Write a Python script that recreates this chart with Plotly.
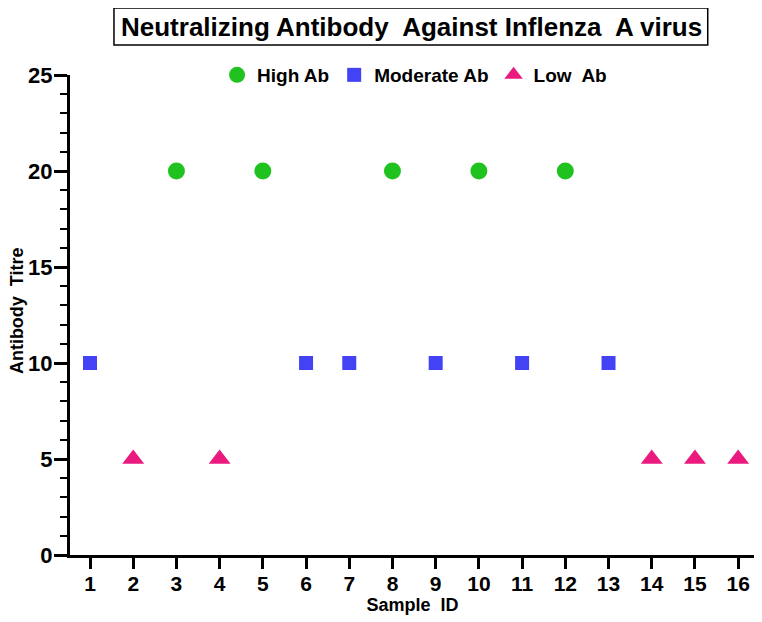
import plotly.graph_objects as go

high_x = [3, 5, 8, 10, 12]
high_y = [20, 20, 20, 20, 20]
mod_x = [1, 6, 7, 9, 11, 13]
mod_y = [10, 10, 10, 10, 10, 10]
low_x = [2, 4, 14, 15, 16]
low_y = [5, 5, 5, 5, 5]
x_ticks = list(range(1, 17))
y_ticks = [0, 5, 10, 15, 20, 25]

FONT = "Liberation Sans, Arial, sans-serif"
NARROW = "Liberation Sans Narrow, Arial Narrow, Liberation Sans, sans-serif"

fig = go.Figure()
fig.add_trace(go.Scatter(x=high_x, y=high_y, mode="markers", name="<b>High Ab</b>",
                         marker=dict(symbol="circle", size=17, color="#1fc21f")))
fig.add_trace(go.Scatter(x=mod_x, y=mod_y, mode="markers", name="<b>Moderate Ab</b>",
                         marker=dict(symbol="square", size=14, color="#4343f5")))
fig.add_trace(go.Scatter(x=low_x, y=low_y, mode="markers", name="<b>Low  Ab</b>",
                         marker=dict(symbol="triangle-up", size=19, color="#ea1a7f")))

fig.update_layout(
    width=762, height=622,
    margin=dict(l=62, r=15, t=67, b=75, autoexpand=False),
    plot_bgcolor="white", paper_bgcolor="white",
    font=dict(family=FONT, color="black"),
    legend=dict(orientation="h", x=0.503, xanchor="center", y=1.0, yanchor="middle",
                font=dict(size=19, family=FONT), bgcolor="rgba(0,0,0,0)",
                itemwidth=30, tracegroupgap=0),
    shapes=[dict(type="rect", xref="paper", yref="paper",
                 x0=0.0642, x1=0.931, y0=1.0625, y1=1.1396,
                 line=dict(color="black", width=1.5), fillcolor="rgba(0,0,0,0)")],
    annotations=[
        dict(text="<b>Neutralizing Antibody  Against Inflenza  A virus</b>",
             xref="paper", yref="paper", x=0.498, y=1.1,
             xanchor="center", yanchor="middle", showarrow=False,
             font=dict(size=26, family=FONT, color="black")),
        dict(text="<b>Antibody  Titre</b>", textangle=-90,
             xref="paper", yref="paper", x=-0.0775, y=0.51,
             xanchor="center", yanchor="middle", showarrow=False,
             font=dict(size=18, family=FONT, color="black")),
    ],
)
fig.update_xaxes(range=[0.537, 16.39], tickvals=x_ticks, ticktext=["<b>%d</b>" % v for v in x_ticks],
                 showgrid=False, zeroline=False, showline=True, linecolor="black", linewidth=3,
                 ticks="outside", ticklen=11, tickwidth=2.5, tickcolor="black",
                 tickfont=dict(size=21, family=NARROW), ticklabelstandoff=-3,
                 title=dict(text="<b>Sample  ID</b>", font=dict(size=18, family=FONT), standoff=4))
fig.update_yaxes(range=[0, 25], tickvals=y_ticks, ticktext=["<b>%d</b>" % v for v in y_ticks],
                 showgrid=False, zeroline=False,
                 showline=True, linecolor="black", linewidth=3,
                 ticks="outside", ticklen=13, tickwidth=2.5, tickcolor="black",
                 minor=dict(dtick=1, ticks="outside", ticklen=7, tickwidth=2, tickcolor="black"),
                 tickfont=dict(size=22, family=FONT), ticklabelstandoff=-3)

fig.write_html("out.html")
